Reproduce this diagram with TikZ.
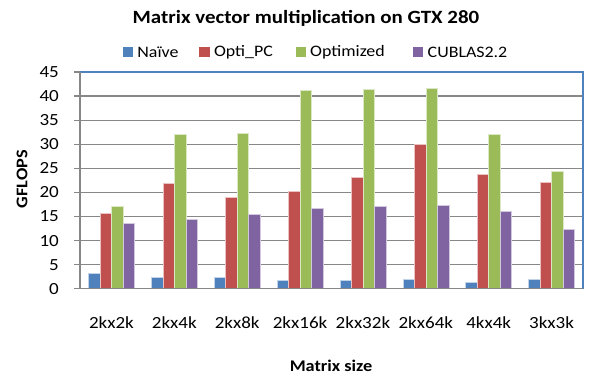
\documentclass[tikz,border=0pt]{standalone}
\usepackage{fontspec}
\setmainfont{Carlito}[FakeStretch=1.12]
\usetikzlibrary{positioning}

\definecolor{naivecolor}{HTML}{4F81BD}
\definecolor{opticolor}{HTML}{C0504D}
\definecolor{optcolor}{HTML}{9BBB59}
\definecolor{cublascolor}{HTML}{8064A2}
\definecolor{gridcolor}{HTML}{878787}
\definecolor{framecolor}{HTML}{4F81BD}

\tikzset{
  %% gbar : one bar of the chart
  gbar/.style={
    fill=#1,
    draw=white!65!#1,
    line width=0.5pt
  },
  %% gridline : horizontal help line
  gridline/.style={gridcolor, line width=1.3pt},
  %% ticklabel : numbers on the value axis
  ticklabel/.style={
    anchor=east,
    inner sep=0pt,
    font=\fontsize{17}{19}\selectfont
  },
  %% catlabel : matrix sizes below the chart
  catlabel/.style={
    inner sep=0pt,
    font=\fontsize{17}{19}\selectfont
  },
  %% legendtext : entries of the legend
  legendtext/.style={
    anchor=west,
    inner sep=0pt,
    font=\fontsize{16}{18}\selectfont
  },
  %% axistitle : bold axis titles
  axistitle/.style={
    inner sep=0pt,
    font=\bfseries\fontsize{16.3}{18}\selectfont
  }
}

\begin{document}
\begin{tikzpicture}[x=1pt, y=1pt]
  \useasboundingbox (0,0) rectangle (592,377);

  %% Title and legend
  \node (title) [inner sep=0pt, font=\bfseries\fontsize{18.7}{20}\selectfont]
    at (306,359) {Matrix vector multiplication on GTX 280};

  \foreach \x/\col/\txt [count=\k] in {122.7/naivecolor/Naïve,
      199.3/opticolor/Opti\_PC, 295.5/optcolor/Optimized,
      413/cublascolor/CUBLAS2.2}{
    \fill [\col] (\x,319.7) rectangle ++(10.3,10);
    \node (leg\k) [legendtext] at (\x+14.5,324.7) {\txt};
  }

  %% Plot area: value 0 at y=88.3, one unit = 4.815pt
  \begin{scope}[shift={(80,88.3)}, y=4.815pt]
    % grid and ticks
    \foreach \v in {5,10,...,40}{
      \draw [gridline] (-6,\v) -- (503,\v);
    }
    \foreach \v in {0,5,...,45}{
      \draw [gridline] (-6,\v) -- (0,\v);
      \node (tick\v) [ticklabel] at (-21,\v) {\v};
    }

    % bars
    \foreach \lab/\a/\b/\c/\d [count=\i from 0] in {
        2kx2k/3.3/15.6/17.1/13.5,
        2kx4k/2.3/21.9/32.1/14.4,
        2kx8k/2.4/18.9/32.2/15.4,
        2kx16k/1.8/20.3/41.3/16.8,
        2kx32k/1.7/23.1/41.5/17.2,
        2kx64k/2.0/30.0/41.7/17.4,
        4kx4k/1.3/23.7/32.1/16.0,
        3kx3k/1.9/22.2/24.4/12.3}{
      \foreach \v/\col [count=\j from 0] in
          {\a/naivecolor, \b/opticolor, \c/optcolor, \d/cublascolor}{
        \draw [gbar=\col] (62.875*\i+8.44+11.5*\j,0)
          rectangle ++(11.5,\v);
      }
      \node (cat\i) [catlabel] at (62.875*\i+31.44,-7) {\lab};
    }

    % frame and axes
    \draw [framecolor, line width=1.2pt] (0,45) -- (503,45) -- (503,0);
    \draw [gridline] (0,0) -- (503,0);
    \draw [gridline] (0,0) -- (0,45);
  \end{scope}

  %% Axis titles
  \node (xtitle) [axistitle] at (331,11) {Matrix size};
  \node (ytitle) [axistitle, rotate=90] at (22,198) {GFLOPS};

\end{tikzpicture}
\end{document}
